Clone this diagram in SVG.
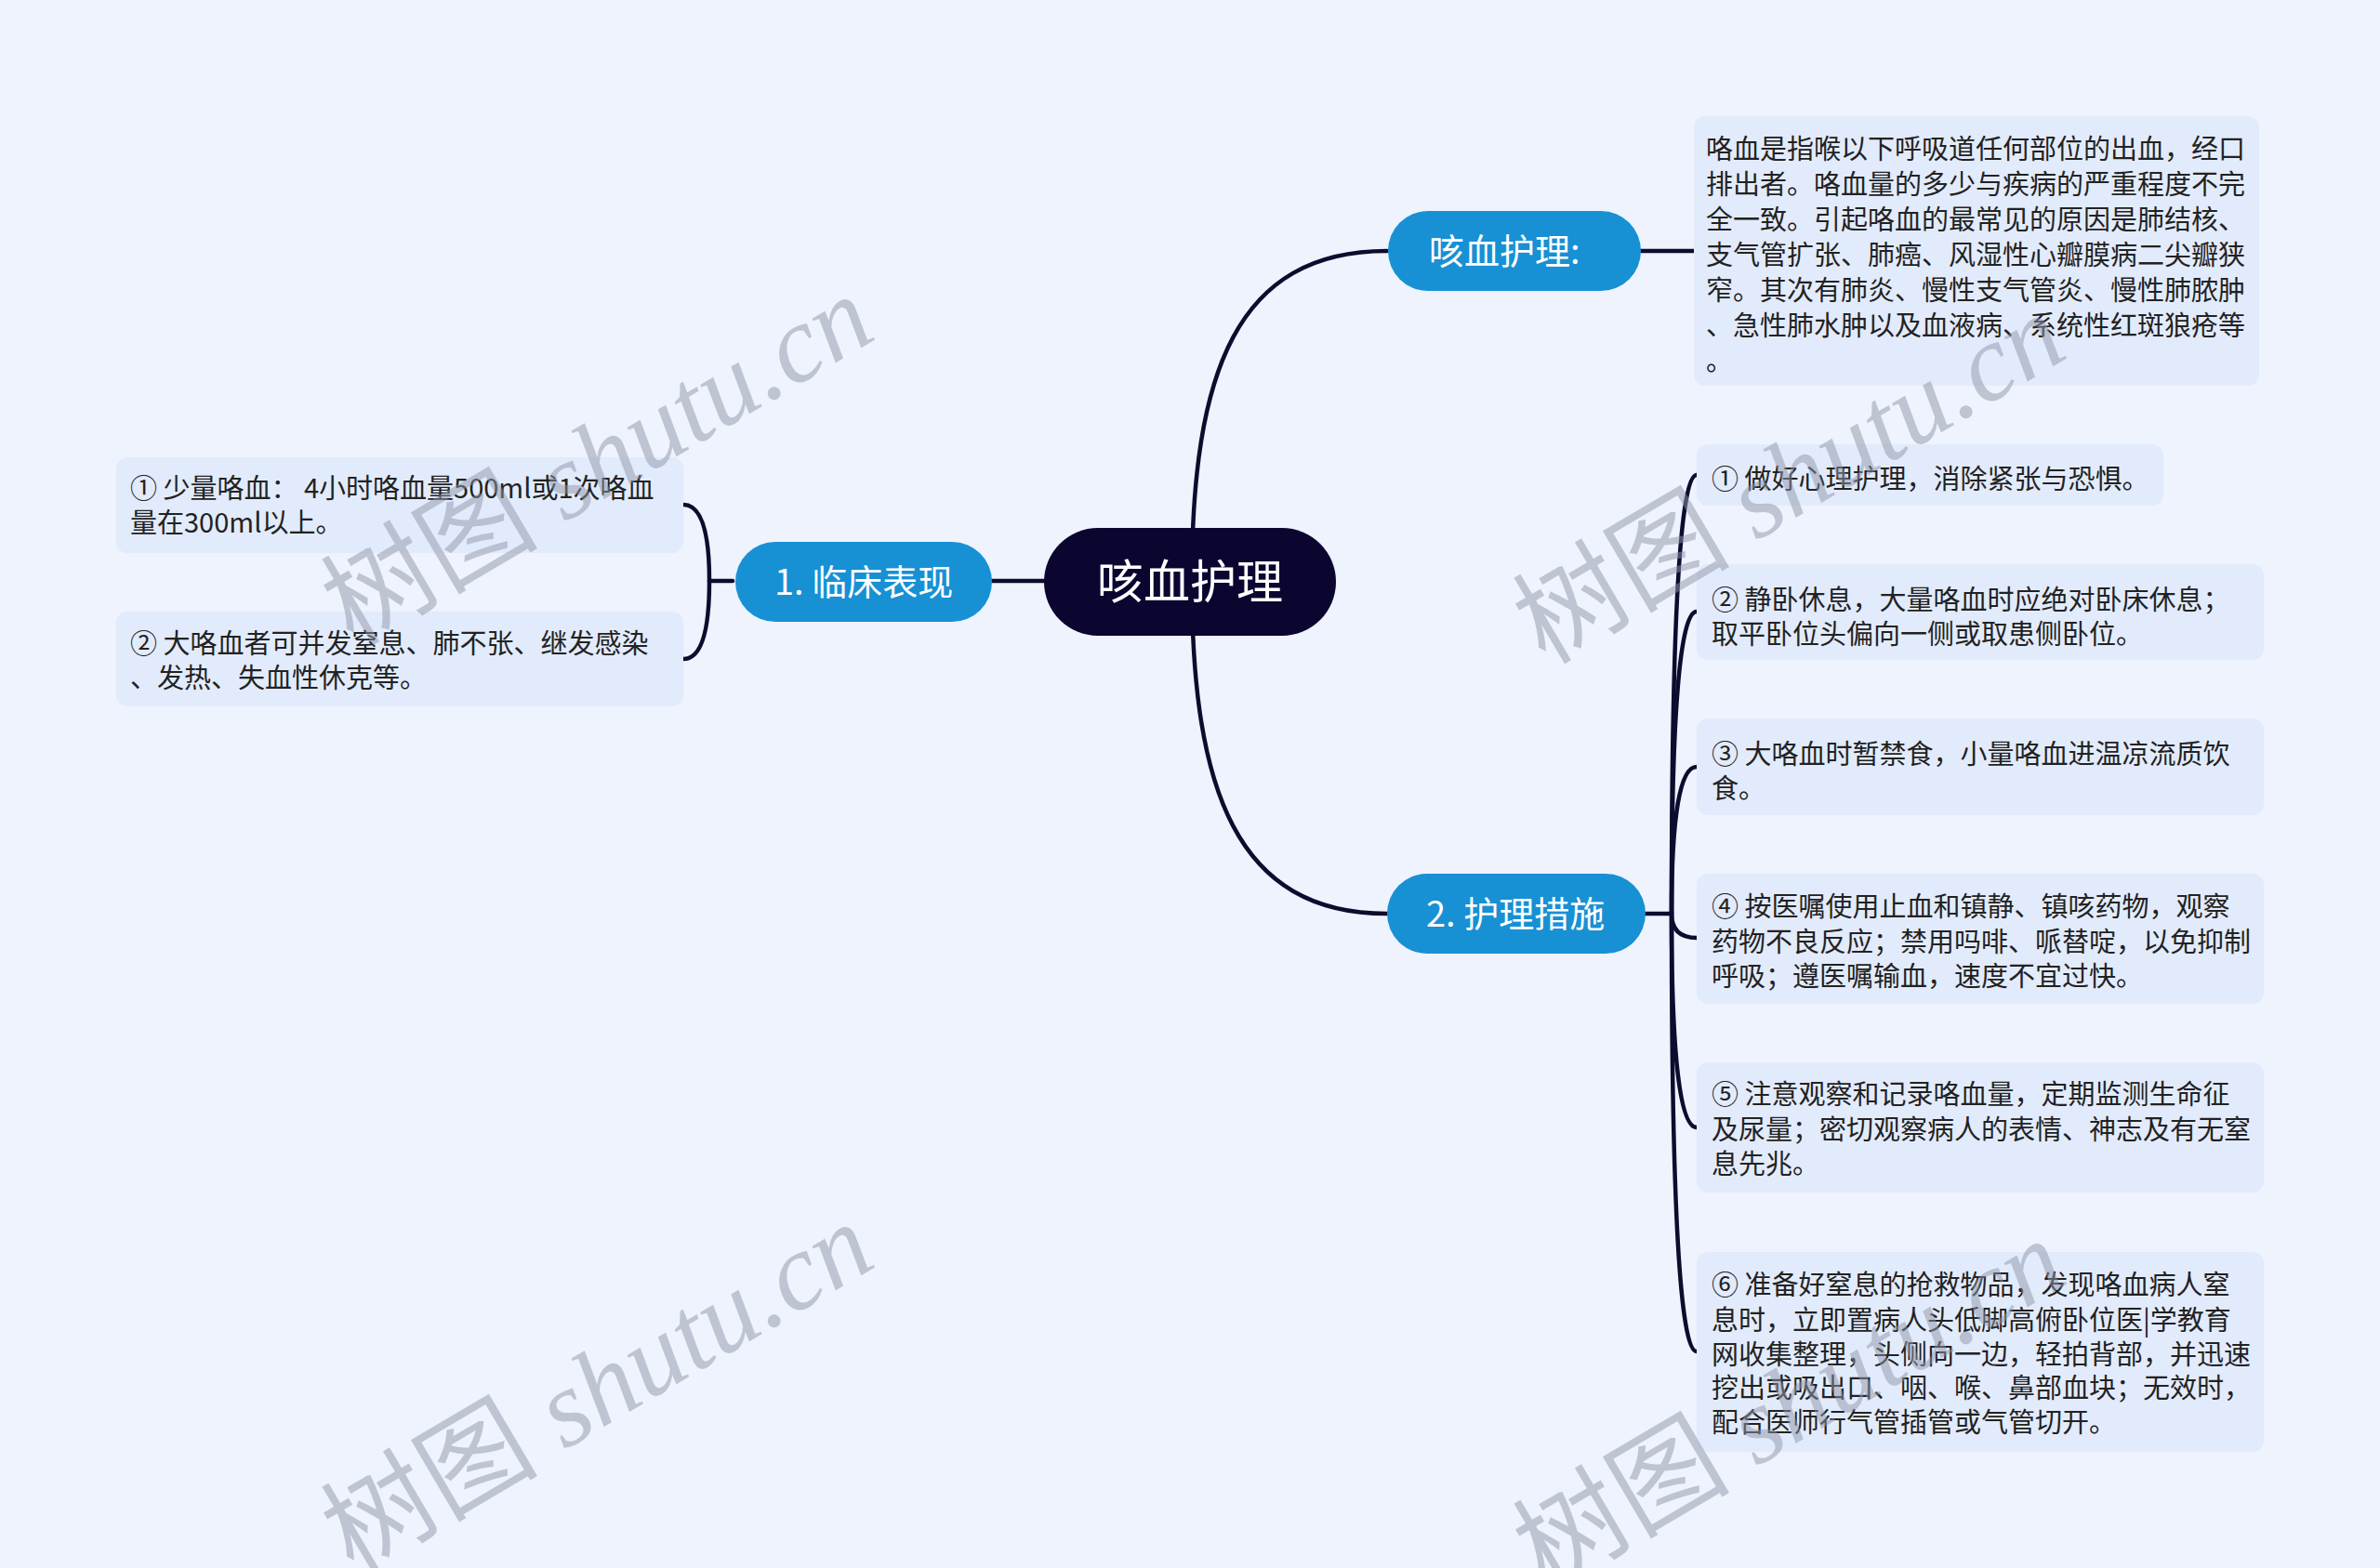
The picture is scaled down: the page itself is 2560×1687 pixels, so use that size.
<svg xmlns="http://www.w3.org/2000/svg" width="2560" height="1687" viewBox="0 0 2560 1687">
<style>
.bg{fill:#EEF3FD}
.box{fill:#E2EBFB}
.blue{fill:#1890D4}
.root{fill:#0A0630}
.t{font-family:"Noto Sans CJK SC","Noto Sans",sans-serif;font-size:29px;fill:#222222}
.nl{font-family:"Noto Sans CJK SC","Noto Sans",sans-serif;font-size:38px;fill:#FFFFFF}
.rl{font-family:"Noto Sans CJK SC","Noto Sans",sans-serif;font-size:50px;fill:#FFFFFF}
.c{fill:none;stroke:#0D0B2E;stroke-width:4.5;stroke-linecap:round}
.wm{font-family:"Liberation Serif","Noto Sans CJK SC",serif;font-size:117px;fill:#8F96A8;opacity:0.5}
</style>
<rect class="bg" x="0" y="0" width="2560" height="1687"/>
<g id="connectors">
<path class="c" d="M1282 625 C1282 400 1330 270 1492 270"/>
<path class="c" d="M1282 625 C1282 850 1330 983 1492 983"/>
<path class="c" d="M1067 625 H1123"/>
<path class="c" d="M1765 270 H1822"/>
<path class="c" d="M788 625 H763"/>
<path class="c" d="M763 625 Q763 543 735 543"/>
<path class="c" d="M763 625 Q763 709 735 709"/>
<path class="c" d="M1770 983 H1798"/>
<path class="c" d="M1798 983 Q1798 511 1825 511"/>
<path class="c" d="M1798 983 Q1798 658 1825 658"/>
<path class="c" d="M1798 983 Q1798 825 1825 825"/>
<path class="c" d="M1798 983 Q1798 1009 1825 1009"/>
<path class="c" d="M1798 983 Q1798 1213 1825 1213"/>
<path class="c" d="M1798 983 Q1798 1454 1825 1454"/>
</g>
<g id="root">
<rect class="root" x="1123" y="568" width="314" height="116" rx="58"/>
<text class="rl" x="1280" y="644" text-anchor="middle">咳血护理</text>
</g>
<g id="n-kexue">
<rect class="blue" x="1493" y="227" width="272" height="86" rx="43"/>
<text class="nl" x="1537" y="284">咳血护理:</text>
</g>
<g id="n-desc">
<rect class="box" x="1822" y="125" width="608" height="290" rx="12"/>
<text class="t"><tspan x="1835" y="171">咯血是指喉以下呼吸道任何部位的出血，经口</tspan><tspan x="1835" y="209">排出者。咯血量的多少与疾病的严重程度不完</tspan><tspan x="1835" y="247">全一致。引起咯血的最常见的原因是肺结核、</tspan><tspan x="1835" y="285">支气管扩张、肺癌、风湿性心瓣膜病二尖瓣狭</tspan><tspan x="1835" y="323">窄。其次有肺炎、慢性支气管炎、慢性肺脓肿</tspan><tspan x="1835" y="361">、急性肺水肿以及血液病、系统性红斑狼疮等</tspan><tspan x="1835" y="399">。</tspan></text>
</g>
<g id="n-clinical">
<rect class="blue" x="791" y="583" width="276" height="86" rx="43"/>
<text class="nl" x="833" y="640">1. 临床表现</text>
</g>
<g id="n-c1">
<rect class="box" x="125" y="492" width="610" height="103" rx="12"/>
<text class="t"><tspan x="140" y="536">① 少量咯血： 4小时咯血量500ml或1次咯血</tspan><tspan x="140" y="573">量在300ml以上。</tspan></text>
</g>
<g id="n-c2">
<rect class="box" x="125" y="658" width="610" height="102" rx="12"/>
<text class="t"><tspan x="140" y="703">② 大咯血者可并发窒息、肺不张、继发感染</tspan><tspan x="140" y="740">、发热、失血性休克等。</tspan></text>
</g>
<g id="n-care">
<rect class="blue" x="1492" y="940" width="278" height="86" rx="43"/>
<text class="nl" x="1534" y="997">2. 护理措施</text>
</g>
<g id="n-r1">
<rect class="box" x="1825" y="478" width="502" height="66" rx="12"/>
<text class="t" x="1841" y="526">① 做好心理护理，消除紧张与恐惧。</text>
</g>
<g id="n-r2">
<rect class="box" x="1825" y="607" width="610" height="103" rx="12"/>
<text class="t"><tspan x="1841" y="656">② 静卧休息，大量咯血时应绝对卧床休息；</tspan><tspan x="1841" y="693">取平卧位头偏向一侧或取患侧卧位。</tspan></text>
</g>
<g id="n-r3">
<rect class="box" x="1825" y="773" width="610" height="104" rx="12"/>
<text class="t"><tspan x="1841" y="822">③ 大咯血时暂禁食，小量咯血进温凉流质饮</tspan><tspan x="1841" y="859">食。</tspan></text>
</g>
<g id="n-r4">
<rect class="box" x="1825" y="940" width="610" height="140" rx="12"/>
<text class="t"><tspan x="1841" y="986">④ 按医嘱使用止血和镇静、镇咳药物，观察</tspan><tspan x="1841" y="1024">药物不良反应；禁用吗啡、哌替啶，以免抑制</tspan><tspan x="1841" y="1061">呼吸；遵医嘱输血，速度不宜过快。</tspan></text>
</g>
<g id="n-r5">
<rect class="box" x="1825" y="1143" width="610" height="140" rx="12"/>
<text class="t"><tspan x="1841" y="1188">⑤ 注意观察和记录咯血量，定期监测生命征</tspan><tspan x="1841" y="1226">及尿量；密切观察病人的表情、神志及有无窒</tspan><tspan x="1841" y="1263">息先兆。</tspan></text>
</g>
<g id="n-r6">
<rect class="box" x="1825" y="1347" width="610" height="215" rx="12"/>
<text class="t"><tspan x="1841" y="1393">⑥ 准备好窒息的抢救物品，发现咯血病人窒</tspan><tspan x="1841" y="1431">息时，立即置病人头低脚高俯卧位医|学教育</tspan><tspan x="1841" y="1468">网收集整理，头侧向一边，轻拍背部，并迅速</tspan><tspan x="1841" y="1504">挖出或吸出口、咽、喉、鼻部血块；无效时，</tspan><tspan x="1841" y="1541">配合医师行气管插管或气管切开。</tspan></text>
</g>
<g id="watermarks">
<text class="wm" transform="translate(380 696) rotate(-30.5)">树图 <tspan font-style="italic">shutu.cn</tspan></text>
<text class="wm" transform="translate(1662 716) rotate(-30.5)">树图 <tspan font-style="italic">shutu.cn</tspan></text>
<text class="wm" transform="translate(380 1694) rotate(-30.5)">树图 <tspan font-style="italic">shutu.cn</tspan></text>
<text class="wm" transform="translate(1662 1712) rotate(-30.5)">树图 <tspan font-style="italic">shutu.cn</tspan></text>
</g>
</svg>
